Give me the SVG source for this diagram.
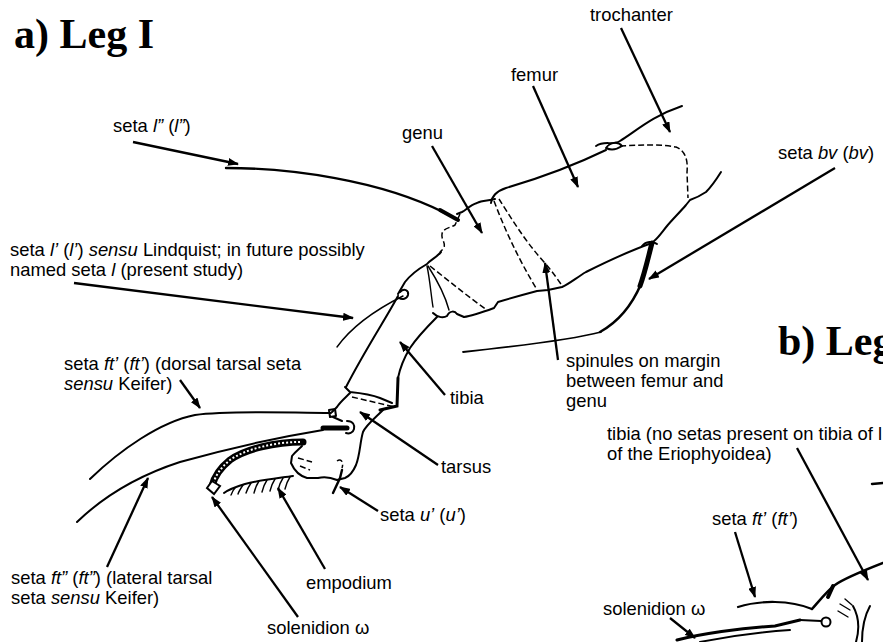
<svg xmlns="http://www.w3.org/2000/svg" width="883" height="642" viewBox="0 0 883 642">
<defs>
<marker id="ah" viewBox="0 0 11 8" refX="10" refY="4" markerWidth="11" markerHeight="8" markerUnits="userSpaceOnUse" orient="auto"><path d="M0,0 L11,4 L0,8 z" fill="#000"/></marker>
<style>
.lbl{font-family:"Liberation Sans",Arial,sans-serif;font-size:18.4px;fill:#000}
.ttl{font-family:"Liberation Serif","Times New Roman",serif;font-size:42px;font-weight:bold;fill:#000}
.i{font-style:italic}
.ar{stroke:#000;stroke-width:2.3;fill:none;marker-end:url(#ah)}
.o{stroke:#000;stroke-width:2;fill:none;stroke-linecap:round;stroke-linejoin:round}
.t{stroke:#000;stroke-width:1.4;fill:none;stroke-linecap:round}
.d{stroke:#000;stroke-width:1.5;fill:none;stroke-dasharray:6 3}
.k{stroke:#000;fill:none;stroke-linecap:round}
</style>
</defs>
<rect width="883" height="642" fill="#fff"/>

<g id="leg-a">
<!-- trochanter -->
<path class="o" d="M596,146 C605,140 612,146 620,141 C635,132 652,116 682,106"/>
<path class="o" d="M606,148 C610,142 618,141 622,146 C616,150 610,150 606,148 Z"/>
<path class="d" d="M620,146 C640,145 660,144 676,147 C686,151 688,161 687,172 L688,198"/>
<path class="o" d="M721,172 C716,180 712,186 706,192 C700,196 696,198 690,200 L686,205 C680,212 672,220 667,226 C662,232 658,238 654,241"/>
<!-- femur -->
<path class="o" d="M491,203 C492,195 497,191 506,188 C540,178 575,165 606,150"/>
<path class="o" d="M652,243 C632,250 606,262 586,272 C576,278 569,284 562,287 L548,290 L537,291 C522,295 508,299 498,302 L494,308 C483,312 472,316 464,317"/>
<path class="o" d="M642,246 C646,241 653,241 657,244"/>
<path class="d" d="M494,201 C505,230 518,258 536,288"/>
<path class="d" d="M499,199 C510,216 524,240 544,262 C552,271 558,280 563,287"/>
<!-- genu -->
<path class="o" d="M495,199 C488,201 482,200 477,203 C470,205 466,210 462,212 L457,214"/>
<path class="d" d="M460,214 L455,225 C450,228 443,228 442,234 C441,240 446,242 444,248 L440,252"/>
<path class="o" d="M441,252 C436,258 430,260 427,264 C420,268 412,273 405,282 L398,294"/>
<path class="t" d="M427,266 C430,280 431,295 433,307"/>
<path class="t" d="M428,266 C437,280 445,295 449,310"/>
<path class="d" d="M430,266 C450,282 470,298 487,310"/>
<path class="o" d="M433,313 C438,318 444,318 447,316 C450,310 455,311 457,314 L464,317"/>
<!-- seta l'' -->
<path class="k" stroke-width="2.4" d="M226,168 C290,168 380,180 445,213"/>
<path class="k" stroke-width="4" d="M440,210 L458,220"/>
<!-- tibia -->
<path class="o" d="M400,292 C404,288 409,290 408,295 C407,299 402,300 399,298"/>
<path class="t" d="M403,296 C385,305 355,322 337,347"/>
<path class="o" d="M398,296 C385,320 365,350 346,387"/>
<path class="o" d="M437,317 C428,326 418,336 410,348 C404,358 400,368 398,378"/>
<path class="k" stroke-width="3" d="M398,378 L397,406 L380,410"/>
<path class="o" d="M345,387 L350,392 C360,393 370,394 380,398 L392,403"/>
<path class="d" d="M352,397 L395,407"/>
<!-- tarsus -->
<path class="o" d="M350,393 C345,398 340,402 337,407 L332,412"/>
<path class="o" d="M329,410 L335,409 L336,416 L330,417 Z"/>
<path class="o" d="M383,410 C375,418 366,425 363,432 C360,442 360,455 356,465 C353,472 350,476 345,478 L337,480 C330,477 325,476 318,478 L307,478 C300,476 294,470 291,463 L292,456 C295,452 299,449 302,446"/>
<path class="o" d="M333,417 L342,421"/>
<path class="o" d="M347,421 C353,421 355,425 354,429 C353,433 349,434 346,433"/>
<path class="k" stroke-width="5" d="M323,428 L347,428"/>
<path class="d" d="M298,458 L312,462 M300,466 L310,470"/>
<path class="d" d="M337,461 C341,458 344,462 342,468"/>
<!-- seta ft' -->
<path class="k" stroke-width="2" d="M331,413 C290,413 230,410 195,415 C160,422 120,450 90,479"/>
<!-- seta ft'' -->
<path class="k" stroke-width="2" d="M323,430 C280,437 230,448 180,462 C140,475 105,495 77,522"/>
<!-- solenidion -->
<path class="k" stroke-width="7" d="M303,442 C275,442 245,449 230,460 C220,468 214,478 212,486"/>
<path stroke="#fff" stroke-width="2" fill="none" stroke-dasharray="2 2" d="M300,442 C275,442 245,449 230,460 C220,468 215,477 213,484"/>
<path d="M207,488 L212,481 L220,486 L214,494 Z" fill="#fff" stroke="#000" stroke-width="2"/>
<!-- empodium -->
<path class="o" d="M293,476 C280,478 260,480 245,484 C235,487 228,490 224,493"/>
<path class="t" d="M290,477 c-2,3 -4,8 -5,12 M283,478 c-2,3 -4,8 -5,12 M275,479 c-2,3 -4,8 -5,12 M267,480 c-2,3 -4,8 -5,12 M259,481 c-2,3 -4,8 -5,12 M251,483 c-2,3 -4,7 -5,10 M243,485 c-2,3 -4,6 -5,9 M235,488 c-2,2 -3,5 -4,7"/>
<!-- seta u' -->
<path class="k" stroke-width="2.4" d="M342,470 L340,478 L333,493"/>
<!-- seta bv -->
<path class="k" stroke-width="5" d="M652,243 C648,258 645,272 640,286"/>
<path class="k" stroke-width="2.5" d="M641,284 C632,305 618,322 600,332"/>
<path class="k" stroke-width="1.8" d="M601,332 C570,340 520,346 463,352"/>
</g>

<g id="leg-b">
<path class="k" stroke-width="2.5" d="M872,484 L883,483"/>
<path class="k" stroke-width="2.2" d="M738,607 C760,600 790,600 812,609"/>
<path class="k" stroke-width="2.5" d="M812,609 C820,600 828,590 835,585 C845,578 860,572 883,563"/>
<path class="k" stroke-width="4" d="M828,597 L833,586"/>
<circle cx="826" cy="622" r="4.5" fill="#fff" stroke="#000" stroke-width="2"/>
<path class="o" d="M800,620 L821,621"/>
<path class="t" d="M840,604 L850,610 M838,611 L848,617 M845,599 L852,605"/>
<path class="o" d="M870,606 C865,615 862,625 862,642"/>
<path class="o" d="M853,606 C858,615 860,628 856,642"/>
<path class="k" stroke-width="3" d="M677,640 C700,634 740,628 775,626 L800,620"/>
<path class="k" stroke-width="2" d="M700,642 C730,636 760,632 790,630"/>
</g>

<g id="connectors">
<line class="ar" x1="621" y1="28" x2="670" y2="132"/>
<line class="ar" x1="533" y1="86" x2="578" y2="187"/>
<line class="ar" x1="432" y1="146" x2="482" y2="233"/>
<line class="ar" x1="133" y1="142" x2="238" y2="164"/>
<line class="ar" x1="835" y1="168" x2="649" y2="279"/>
<line class="ar" x1="74" y1="283" x2="353" y2="318"/>
<line class="ar" x1="180" y1="380" x2="200" y2="408"/>
<line class="ar" x1="445" y1="395" x2="400" y2="342"/>
<line class="ar" x1="558" y1="360" x2="545" y2="263"/>
<line class="ar" x1="438" y1="465" x2="360" y2="412"/>
<line class="ar" x1="378" y1="511" x2="340" y2="487"/>
<line class="ar" x1="325" y1="569" x2="278" y2="488"/>
<line class="ar" x1="298" y1="617" x2="212" y2="497"/>
<line class="ar" x1="107" y1="567" x2="148" y2="478"/>
<line class="ar" x1="797" y1="448" x2="868" y2="580"/>
<line class="ar" x1="735" y1="532" x2="755" y2="597"/>
<line class="ar" x1="670" y1="618" x2="695" y2="638"/>
</g>

<g id="labels">
<text id="title-a" class="ttl" x="14" y="48">a) Leg I</text>
<text id="title-b" class="ttl" x="778" y="355">b) Leg</text>
<text id="lbl-trochanter" class="lbl" x="590" y="21">trochanter</text>
<text id="lbl-femur" class="lbl" x="511" y="81">femur</text>
<text id="lbl-genu" class="lbl" x="402" y="139">genu</text>
<text id="lbl-seta-l2" class="lbl" x="113" y="132">seta <tspan class="i">l”</tspan> (<tspan class="i">l”</tspan>)</text>
<text id="lbl-seta-bv" class="lbl" x="778" y="159">seta <tspan class="i">bv</tspan> (<tspan class="i">bv</tspan>)</text>
<text id="lbl-seta-l1" class="lbl" x="10" y="256">seta <tspan class="i">l’</tspan> (<tspan class="i">l’</tspan>) <tspan class="i">sensu</tspan> Lindquist; in future possibly<tspan x="10" dy="19.5">named seta <tspan class="i">l</tspan> (present study)</tspan></text>
<text id="lbl-ft1" class="lbl" x="64" y="370">seta <tspan class="i">ft’</tspan> (<tspan class="i">ft’</tspan>) (dorsal tarsal seta<tspan x="64" dy="20"><tspan class="i">sensu</tspan> Keifer)</tspan></text>
<text id="lbl-tibia" class="lbl" x="450" y="404">tibia</text>
<text id="lbl-spinules" class="lbl" x="566" y="367">spinules on margin<tspan x="566" dy="20">between femur and</tspan><tspan x="566" dy="20">genu</tspan></text>
<text id="lbl-tibia-b" class="lbl" x="607" y="440">tibia (no setas present on tibia of l<tspan x="607" dy="20">of the Eriophyoidea)</tspan></text>
<text id="lbl-tarsus" class="lbl" x="441" y="473">tarsus</text>
<text id="lbl-seta-u" class="lbl" x="380" y="521">seta <tspan class="i">u’</tspan> (<tspan class="i">u’</tspan>)</text>
<text id="lbl-ft1-b" class="lbl" x="712" y="525">seta <tspan class="i">ft’</tspan> (<tspan class="i">ft’</tspan>)</text>
<text id="lbl-ft2" class="lbl" x="11" y="584">seta <tspan class="i">ft”</tspan> (<tspan class="i">ft”</tspan>) (lateral tarsal<tspan x="11" dy="20">seta <tspan class="i">sensu</tspan> Keifer)</tspan></text>
<text id="lbl-empodium" class="lbl" x="306" y="589">empodium</text>
<text id="lbl-solen-a" class="lbl" x="267" y="634">solenidion ω</text>
<text id="lbl-solen-b" class="lbl" x="603" y="615">solenidion ω</text>
</g>
</svg>
